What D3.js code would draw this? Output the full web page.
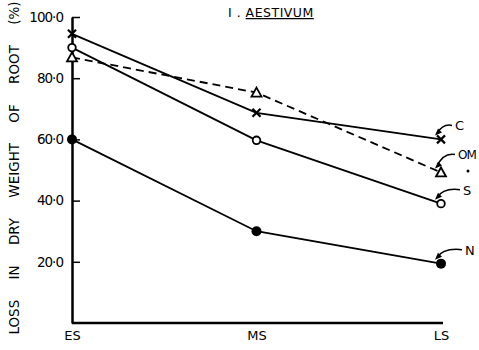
<!DOCTYPE html>
<html><head><meta charset="utf-8">
<script src="https://cdn.jsdelivr.net/npm/d3@7"></script>
<style>body{margin:0;background:#fff}svg{display:block}text{font-family:"DejaVu Sans",sans-serif;fill:#000}</style>
</head><body><svg id="c" width="479" height="350"></svg>
<script>
const stages = ["ES","MS","LS"];
const yTicks = [20,40,60,80,100];
const yTickLabels = ["20·0","40·0","60·0","80·0","100·0"];
const seriesNames = ["C","OM","S","N"];
const valuesC  = [94.5, 68.7, 60];
const valuesOM = [86.8, 75.3, 49.2];
const valuesS  = [90, 59.7, 39];
const valuesN  = [60, 30, 19.4];
const markers = ["cross","triangle","circle","dot"];
const dashes = [null,"8,5",null,null];
const series = [valuesC, valuesOM, valuesS, valuesN].map((v,i)=>({name:seriesNames[i], values:v, marker:markers[i], dash:dashes[i]}));

const svg = d3.select("#c");
const x = d3.scalePoint().domain(stages).range([72,441]);
const y = d3.scaleLinear().domain([0,100]).range([323,17]);

// axes
const ya = svg.append("g").attr("transform","translate(72,0)")
  .call(d3.axisLeft(y).tickValues(yTicks).tickFormat((d,i)=>yTickLabels[i]).tickSizeInner(-8).tickSizeOuter(0).tickPadding(9));
ya.select(".domain").attr("stroke-width",2.5);
ya.selectAll(".tick line").attr("stroke-width",1.5);
ya.selectAll(".tick text").attr("font-size",13.5).attr("letter-spacing","-1px");

const xa = svg.append("g").attr("transform","translate(0,323)")
  .call(d3.axisBottom(x).tickSize(0).tickPadding(8));
xa.select(".domain").attr("stroke-width",2.5).attr("d","M72,0H443");
xa.selectAll(".tick text").attr("font-size",13);

// lines
const line = d3.line().x((d,i)=>x(stages[i])).y(d=>y(d));
series.forEach(s=>{
  svg.append("path").attr("d",line(s.values)).attr("fill","none").attr("stroke","#000")
    .attr("stroke-width",1.8).attr("stroke-dasharray",s.dash);
  s.values.forEach((v,i)=>{
    const cx=x(stages[i]), cy=y(v);
    if(s.marker==="cross"){
      svg.append("path").attr("d",`M${cx-4},${cy-4}L${cx+4},${cy+4}M${cx-4},${cy+4}L${cx+4},${cy-4}`)
        .attr("stroke","#000").attr("stroke-width",2.2);
    } else if(s.marker==="triangle"){
      svg.append("path").attr("d",`M${cx},${cy-5}L${cx+5},${cy+4}L${cx-5},${cy+4}Z`)
        .attr("fill","#fff").attr("stroke","#000").attr("stroke-width",1.8);
    } else if(s.marker==="circle"){
      svg.append("circle").attr("cx",cx).attr("cy",cy).attr("r",3.8)
        .attr("fill","#fff").attr("stroke","#000").attr("stroke-width",1.8);
    } else {
      svg.append("circle").attr("cx",cx).attr("cy",cy).attr("r",5).attr("fill","#000");
    }
  });
});

// series labels with arrows
const lastX = x("LS");
const labelPos = [
  {dx:14, dy:-14},
  {dx:17, dy:-18},
  {dx:22, dy:-14},
  {dx:24, dy:-14}
];
series.forEach((s,i)=>{
  const px = lastX, py = y(s.values[2]);
  const lp = labelPos[i];
  const tx = px+lp.dx, ty = py+lp.dy;
  svg.append("text").attr("x",tx).attr("y",ty+5).attr("font-size",i===1?12:13)
    .attr("letter-spacing",i===1?"-1px":null).text(s.name);
  const ax = px-6, ay = py-6;
  svg.append("path").attr("d",`M${tx-3},${ty}Q${ax+8},${ty-2} ${ax+2},${ay}`)
    .attr("fill","none").attr("stroke","#000").attr("stroke-width",1.5);
  svg.append("path").attr("d",`M${ax},${ay+2}l3,-7l4,4Z`).attr("fill","#000");
});
svg.append("circle").attr("cx",468).attr("cy",171).attr("r",1.5).attr("fill","#000");

// title
const t = svg.append("text").attr("x",228).attr("y",17).attr("font-size",12.5).attr("letter-spacing","0.5px");
t.append("tspan").text("I . ");
t.append("tspan").attr("text-decoration","underline").text("AESTIVUM");

// y label
svg.append("text").attr("transform","translate(19,168) rotate(-90)").attr("text-anchor","middle")
  .attr("font-size",13.5).attr("word-spacing","16px").text("LOSS IN DRY WEIGHT OF ROOT (%)");
</script></body></html>
